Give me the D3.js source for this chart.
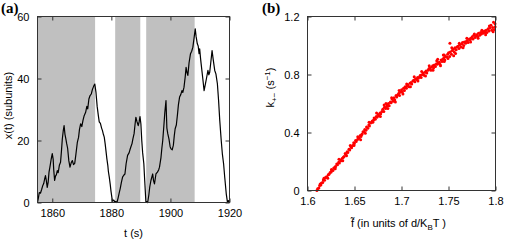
<!DOCTYPE html>
<meta charset="utf-8">
<script src="https://d3js.org/d3.v7.min.js"></script>
<style>
  body { margin: 0; background: #fff; }
  .tick text { font-family: "Liberation Sans Narrow", "Liberation Sans", Arial, sans-serif; font-size: 11px; fill: #000; }
  .lbl { font-family: "Liberation Sans Narrow", "Liberation Sans", Arial, sans-serif; font-size: 11px; fill: #000; }
  .tag { font-family: "Liberation Serif", "Times New Roman", serif; font-size: 15px; font-weight: bold; }
</style>
<div id="chart"></div>
<script>

// panel (a): filament length trajectory
const tValues = [1855.0,1855.3,1855.6,1856.0,1856.4,1856.8,1857.1,1857.4,1857.7,1858.0,1858.3,1858.6,1858.9,1859.2,1859.6,1860.0,1860.3,1860.5,1860.8,1861.1,
  1861.4,1861.7,1862.0,1862.4,1862.8,1863.1,1863.4,1863.7,1864.0,1864.3,1864.6,1864.9,1865.2,1865.6,1866.0,1866.4,1866.8,1867.2,1867.6,1868.0,
  1868.5,1868.9,1869.2,1869.6,1870.0,1870.4,1870.8,1871.3,1871.7,1872.0,1872.4,1872.8,1873.2,1873.6,1874.1,1874.4,1874.8,1875.2,1875.6,1875.9,
  1876.3,1876.7,1877.0,1877.3,1877.6,1877.9,1878.2,1878.5,1878.8,1879.0,1879.3,1879.6,1879.9,1880.2,1880.4,1880.8,1881.2,1881.5,1881.9,1882.3,
  1882.7,1883.0,1883.4,1883.8,1884.2,1884.6,1885.0,1885.5,1886.0,1886.3,1886.6,1887.0,1887.3,1887.7,1888.0,1888.3,1888.7,1889.1,1889.4,1889.7,
  1890.0,1890.3,1890.6,1891.0,1891.3,1891.7,1892.0,1892.3,1892.7,1893.0,1893.4,1894.0,1894.3,1894.6,1895.1,1895.6,1896.0,1896.3,1896.8,1897.1,
  1897.4,1897.8,1898.1,1898.5,1898.8,1899.1,1899.5,1899.9,1900.2,1900.6,1901.0,1901.3,1901.6,1902.0,1902.4,1902.7,1903.1,1903.5,1903.9,1904.2,
  1904.6,1905.0,1905.3,1905.6,1905.9,1906.3,1906.8,1907.2,1907.6,1908.0,1908.4,1908.7,1909.1,1909.4,1909.7,1909.9,1910.2,1910.4,1910.9,1911.4,
  1911.8,1912.2,1912.7,1913.0,1913.3,1913.7,1914.1,1914.5,1915.0,1915.4,1915.9,1916.3,1916.7,1917.2,1917.6,1918.0,1918.4,1918.9,1919.3,1919.6,1920.0];
const xValues = [0,1.5,3.2,3.0,4.2,5.5,6.1,7.5,8.7,7.0,4.9,6.5,9.8,11.4,13.8,15.8,14.0,10.5,7.1,8.5,
  9.0,10.3,9.6,12.0,13.0,16.5,20.5,23.0,24.8,22.0,20.5,18.9,17.5,13.5,11.4,12.8,13.5,12.2,12.6,15.5,
  19.5,21.0,23.5,25.4,24.5,26.5,28.0,29.1,31.0,30.2,33.4,34.5,35.0,36.5,37.7,38.2,35.5,31.0,28.0,26.0,
  25.5,24.0,23.2,22.0,21.1,19.0,16.5,14.0,12.0,10.0,8.2,6.0,3.5,1.5,0.4,0.8,0.2,0.3,0,1.5,
  3.3,4.5,6.5,8.2,8.8,9.2,12.5,15.2,16.0,17.0,17.9,19.0,20.5,22.2,25.0,27.5,26.0,24.8,26.0,27.7,
  25.4,20.0,16.0,12.5,7.0,0.1,0.3,0,2.5,5.0,7.1,9.2,7.0,6.0,9.2,9.8,10.5,11.4,14.5,17.5,
  20.0,25.0,29.0,32.9,24.0,22.2,20.5,18.0,17.3,17.0,18.5,21.5,23.8,25.0,28.5,31.5,34.0,34.8,36.1,35.5,
  37.2,40.5,43.6,42.0,41.0,45.0,48.0,48.8,50.1,53.0,56.0,53.5,51.2,50.5,48.0,49.6,46.5,44.7,40.5,36.1,
  38.0,40.0,42.6,41.2,42.0,45.5,49.0,46.0,42.6,41.5,38.3,33.0,26.5,20.0,15.5,12.5,8.0,2.8,0.1,0.6,0];
// shaded growth intervals [start, end] in seconds
const shadeStart = [1855, 1881.3, 1891.8];
const shadeEnd = [1874.5, 1889.8, 1908.2];
const tTicks = [1860, 1880, 1900, 1920];
const xTicks = [0, 20, 40, 60];

// panel (b): rate vs scaled force, [f, k]
const ratePoints = [
  [1.6100,0.000],[1.6108,0.012],[1.6121,0.018],[1.6129,0.035],[1.6142,0.038],[1.6149,0.052],[1.6162,0.055],[1.6168,0.072],[1.6181,0.070],[1.6188,0.088],
  [1.6202,0.095],[1.6209,0.092],[1.6221,0.108],[1.6229,0.112],[1.6241,0.125],[1.6252,0.128],[1.6259,0.140],[1.6271,0.138],[1.6279,0.155],[1.6292,0.160],
  [1.6298,0.165],[1.6311,0.182],[1.6319,0.178],[1.6332,0.195],[1.6339,0.190],[1.6352,0.210],[1.6358,0.205],[1.6371,0.222],[1.6382,0.230],[1.6389,0.235],
  [1.6401,0.255],[1.6408,0.248],[1.6422,0.268],[1.6429,0.262],[1.6441,0.285],[1.6449,0.280],[1.6462,0.300],[1.6469,0.295],[1.6481,0.310],[1.6492,0.330],
  [1.6499,0.325],[1.6511,0.345],[1.6518,0.338],[1.6532,0.352],[1.6541,0.365],[1.6548,0.360],[1.6561,0.380],[1.6569,0.372],[1.6582,0.390],[1.6591,0.405],
  [1.6601,0.405],[1.6609,0.420],[1.6622,0.415],[1.6628,0.438],[1.6641,0.430],[1.6652,0.452],[1.6659,0.445],[1.6671,0.465],[1.6681,0.470],[1.6689,0.480],
  [1.6702,0.485],[1.6709,0.500],[1.6721,0.492],[1.6732,0.510],[1.6739,0.505],[1.6752,0.525],[1.6758,0.515],[1.6771,0.535],[1.6779,0.530],[1.6791,0.545],
  [1.6801,0.560],[1.6812,0.545],[1.6819,0.575],[1.6831,0.565],[1.6841,0.580],[1.6848,0.590],[1.6861,0.600],[1.6869,0.585],[1.6882,0.610],[1.6889,0.605],
  [1.6902,0.630],[1.6911,0.615],[1.6921,0.640],[1.6928,0.625],[1.6942,0.655],[1.6949,0.645],[1.6961,0.660],[1.6972,0.670],[1.6979,0.655],[1.6991,0.680],
  [1.7001,0.695],[1.7009,0.680],[1.7022,0.705],[1.7031,0.690],[1.7039,0.715],[1.7052,0.705],[1.7061,0.720],[1.7068,0.730],[1.7081,0.715],[1.7091,0.740],
  [1.7102,0.745],[1.7109,0.735],[1.7121,0.755],[1.7131,0.760],[1.7142,0.750],[1.7149,0.770],[1.7162,0.765],[1.7171,0.780],[1.7179,0.775],[1.7192,0.785],
  [1.7201,0.795],[1.7209,0.780],[1.7222,0.800],[1.7231,0.810],[1.7239,0.795],[1.7252,0.815],[1.7261,0.825],[1.7269,0.810],[1.7282,0.830],[1.7291,0.840],
  [1.7301,0.845],[1.7312,0.830],[1.7319,0.850],[1.7332,0.860],[1.7341,0.845],[1.7349,0.865],[1.7361,0.855],[1.7372,0.875],[1.7379,0.870],[1.7391,0.880],
  [1.7402,0.885],[1.7409,0.870],[1.7422,0.900],[1.7431,0.890],[1.7439,0.905],[1.7452,0.915],[1.7461,0.900],[1.7469,0.925],[1.7482,0.920],[1.7491,0.940],
  [1.7501,0.950],[1.7512,0.925],[1.7519,0.955],[1.7531,0.940],[1.7539,0.965],[1.7552,0.975],[1.7561,0.955],[1.7569,0.985],[1.7582,0.970],[1.7591,0.990],
  [1.7601,0.995],[1.7612,0.980],[1.7619,1.005],[1.7632,0.990],[1.7641,1.010],[1.7649,1.020],[1.7662,1.000],[1.7669,1.025],[1.7682,1.015],[1.7691,1.030],
  [1.7702,1.035],[1.7709,1.020],[1.7722,1.045],[1.7731,1.040],[1.7739,1.050],[1.7752,1.060],[1.7761,1.045],[1.7769,1.070],[1.7782,1.055],[1.7791,1.065],
  [1.7801,1.075],[1.7812,1.060],[1.7819,1.085],[1.7832,1.070],[1.7841,1.090],[1.7849,1.080],[1.7862,1.095],[1.7869,1.085],[1.7882,1.100],[1.7891,1.090],
  [1.7901,1.105],[1.7909,1.090],[1.7922,1.115],[1.7931,1.100],[1.7939,1.120],[1.7952,1.140],[1.7961,1.105],[1.7969,1.125],[1.7979,1.160],[1.7988,1.110],[1.7996,1.130],
  [1.7515,1.015],[1.7385,0.905],[1.7445,0.935],[1.6565,0.350],[1.6835,0.600],
  [1.6135,0.045],[1.6175,0.085],[1.6215,0.085],[1.6255,0.145],[1.6295,0.150],[1.6335,0.215],[1.6375,0.205],[1.6415,0.240],[1.6455,0.310],[1.6495,0.310],
  [1.6535,0.370],[1.6575,0.385],[1.6615,0.395],[1.6655,0.470],[1.6695,0.470],[1.6735,0.535],[1.6775,0.510],[1.6815,0.590],[1.6855,0.565],[1.6895,0.640],
  [1.6935,0.610],[1.6975,0.690],[1.7015,0.665],[1.7055,0.735],[1.7095,0.715],[1.7135,0.785],[1.7175,0.755],[1.7215,0.820],[1.7255,0.790],[1.7295,0.860],
  [1.7335,0.830],[1.7375,0.895],[1.7415,0.860],[1.7455,0.935],[1.7495,0.910],[1.7535,0.985],[1.7575,0.945],[1.7615,1.015],[1.7655,0.985],[1.7695,1.050],
  [1.7735,1.025],[1.7775,1.080],[1.7815,1.050],[1.7855,1.105],[1.7895,1.075],[1.7935,1.135],[1.7975,1.095],[1.7995,1.150],[1.7455,0.890],[1.7555,0.930]
];
const fTicks = [1.6, 1.65, 1.7, 1.75, 1.8];
const kTicks = [0, 0.4, 0.8, 1.2];

const svg = d3.select("#chart").append("svg")
  .attr("width", 511).attr("height", 241);

// draws the boxed frame with inward ticks on all four sides
function frame(g, x, y, xt, yt, xfmt, yfmt, w, h) {
  g.append("g").attr("transform", `translate(0,${h})`)
    .call(d3.axisBottom(x).tickValues(xt).tickFormat(xfmt).tickSizeInner(-4).tickSizeOuter(0).tickPadding(7))
    .call(a => a.select(".domain").remove());
  g.append("g")
    .call(d3.axisTop(x).tickValues(xt).tickFormat("").tickSizeInner(-4).tickSizeOuter(0))
    .call(a => a.select(".domain").remove());
  g.append("g")
    .call(d3.axisLeft(y).tickValues(yt).tickFormat(yfmt).tickSizeInner(-4).tickSizeOuter(0).tickPadding(8))
    .call(a => a.select(".domain").remove());
  g.append("g").attr("transform", `translate(${w},0)`)
    .call(d3.axisRight(y).tickValues(yt).tickFormat("").tickSizeInner(-4).tickSizeOuter(0))
    .call(a => a.select(".domain").remove());
  g.selectAll(".tick line").attr("stroke", "#333");
  g.append("rect").attr("width", w).attr("height", h)
    .attr("fill", "none").attr("stroke", "#333").attr("stroke-width", 1);
}

// ---- panel (a)
const wa = 192, ha = 186;
const ga = svg.append("g").attr("transform", "translate(37.5,16.5)");
const xa = d3.scaleLinear().domain([1855, 1920]).range([0, wa]);
const ya = d3.scaleLinear().domain([0, 60]).range([ha, 0]);

ga.selectAll("rect.shade")
  .data(d3.zip(shadeStart, shadeEnd))
  .join("rect")
    .attr("class", "shade")
    .attr("x", d => xa(d[0]))
    .attr("y", 0)
    .attr("width", d => xa(d[1]) - xa(d[0]))
    .attr("height", ha)
    .attr("fill", "#c0c0c0");

ga.append("path")
  .datum(d3.zip(tValues, xValues))
  .attr("fill", "none")
  .attr("stroke", "#000")
  .attr("stroke-width", 1.2)
  .attr("stroke-linejoin", "round")
  .attr("d", d3.line().x(d => xa(d[0])).y(d => ya(d[1])));

frame(ga, xa, ya, tTicks, xTicks, d3.format("d"), d3.format("d"), wa, ha);

ga.append("text").attr("class", "lbl")
  .attr("x", wa / 2).attr("y", ha + 34)
  .attr("text-anchor", "middle").text("t (s)");
ga.append("text").attr("class", "lbl")
  .attr("transform", `translate(-26,${ha / 2 - 4}) rotate(-90)`)
  .attr("text-anchor", "middle").text("x(t)  (subunits)");

svg.append("text").attr("class", "tag").attr("x", 1).attr("y", 13).text("(a)");

// ---- panel (b)
const wb = 188, hb = 174;
const gb = svg.append("g").attr("transform", "translate(307.5,16.5)");
const xb = d3.scaleLinear().domain([1.6, 1.8]).range([0, wb]);
const yb = d3.scaleLinear().domain([0, 1.2]).range([hb, 0]);

gb.selectAll("circle")
  .data(ratePoints)
  .join("circle")
    .attr("cx", d => xb(d[0]))
    .attr("cy", d => yb(d[1]))
    .attr("r", 1.5)
    .attr("fill", "#ff0000");

const fmtB = d => d === 0 ? "0" : String(d);
frame(gb, xb, yb, fTicks, kTicks, fmtB, fmtB, wb, hb);

gb.append("text").attr("class", "lbl")
  .attr("x", wb / 2 - 3).attr("y", hb + 36)
  .attr("text-anchor", "middle")
  .call(t => {
    t.append("tspan").text("f\u0303 (in units of d/K");
    t.append("tspan").attr("dy", 3).attr("font-size", "8px").text("B");
    t.append("tspan").attr("dy", -3).text("T )");
  });

gb.append("text").attr("class", "lbl")
  .attr("transform", `translate(-34,${hb / 2 - 16}) rotate(-90)`)
  .attr("text-anchor", "middle")
  .call(t => {
    t.append("tspan").text("k");
    t.append("tspan").attr("dy", 3).attr("font-size", "8px").text("+\u2212");
    t.append("tspan").attr("dy", -3).text("  (s");
    t.append("tspan").attr("dy", -4).attr("font-size", "8px").text("\u22121");
    t.append("tspan").attr("dy", 4).text(")");
  });

svg.append("text").attr("class", "tag").attr("x", 262).attr("y", 13).text("(b)");

</script>
